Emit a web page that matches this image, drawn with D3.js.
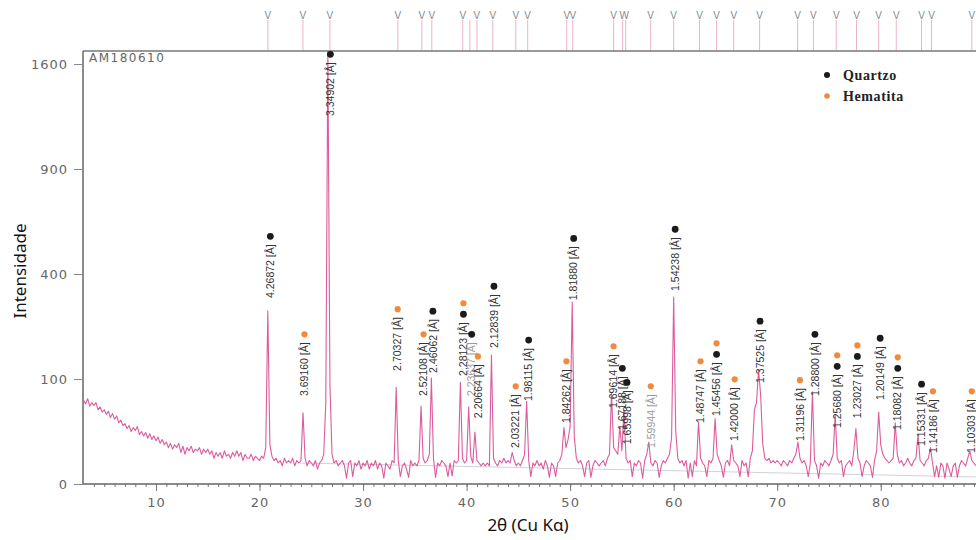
<!DOCTYPE html>
<html>
<head>
<meta charset="utf-8">
<script src="https://cdn.jsdelivr.net/npm/d3@7"></script>
<style>
  body { margin: 0; background: #fff; }
  svg { display: block; }
</style>
</head>
<body>
<svg id="chart" width="976" height="540"></svg>
<script>
// padrão de DRX, amostra AM180610
const sampleName = 'AM180610'
const twoThetaStart = 3
const twoThetaStep = 0.2

// contagens, passo de 0.2 grau a partir de 3.0
const counts = [
  64, 58, 66, 55, 60,   56, 60, 50, 54, 47,   50, 44, 48, 40, 45,   38, 42, 34, 37, 31,
  33, 28, 31, 25, 29,   26, 30, 22, 25, 21,   24, 19, 23, 18, 21,   17, 20, 15, 18, 14,   // 3-10
  16, 12, 15, 11, 14,   12, 15, 9, 13, 8,     12, 10, 13, 9, 11,    10, 12, 8, 11, 9,
  11, 8, 10, 6, 9,      7, 9, 6, 10, 7,       8, 6, 9, 7, 10,       7, 9, 5, 8, 6,
  6, 8, 5, 7, 6,        5, 7, 6, 12, 272,     // 11-20
  14, 7, 5, 6, 4,       5, 3, 6, 4, 5,        4, 6, 3, 5, 4,        5, 46, 6, 3, 5,
  4, 3, 5, 2, 4,        5, 8, 60, 1700, 90,   8, 4, 5, 3, 4,        5, 3, 0.3, 4, 5,
  0.5, 4, 3, 5, 2,      4, 3, 5, 2, 4,        // 21-30
  3, 5, 2, 4, 3,        0.3, 4, 3, 2, 5,      4, 85, 5, 0.5, 3,     4, 2, 0.4, 5, 3,
  4, 3, 5, 55, 6,       4, 5, 8, 102, 6,      0.4, 4, 3, 5, 4,      3, 0.5, 4, 0.6, 5,
  4, 5, 94, 6, 4,       5, 54, 7, 4, 24.5,    // 31-40
  5, 4, 3, 4, 3,        4, 3, 151, 6, 4,      3, 5, 4, 6, 4,        5, 4, 9, 5, 3,
  4, 3, 5, 8, 62,       5, 0.5, 4, 3, 5,      3, 4, 2, 5, 3,        0.4, 4, 3, 0.5, 4,
  5, 8, 29, 12, 18,     30, 300, 20, 6, 4,    // 41-50
  5, 3, 0.5, 4, 5,      0.4, 3, 5, 4, 3,      4, 5, 3, 6, 8,        75, 12, 10, 8, 30,
  10, 50, 6, 4, 5,      0.5, 4, 3, 5, 4,      0.3, 5, 8, 16, 4,     3, 5, 4, 0.4, 3,
  5, 4, 6, 8, 20,       317, 25, 6, 4, 5,     // 51-60
  3, 5, 0.3, 4, 0.5,    5, 3, 35, 6, 4,       3, 0.5, 5, 4, 6,      39, 8, 5, 3, 0.4,
  4, 5, 3, 14, 5,       4, 3, 0.5, 5, 3,      4, 0.5, 6, 10, 50,    60, 118, 72, 15, 6,
  5, 6, 4, 5, 4,        5, 4, 3, 5, 4,        // 61-70
  3, 5, 4, 6, 8,        16, 6, 4, 5, 3,       0.5, 4, 77, 5, 3,     0.3, 4, 3, 5, 4,
  3, 5, 8, 43, 6,       4, 5, 0.5, 3, 4,      5, 3, 10, 28, 6,      4, 0.5, 3, 5, 4,
  3, 0.4, 5, 10, 47,    14, 8, 6, 5, 4,       // 71-80
  5, 6, 34, 8, 4,       5, 3, 4, 6, 4,        3, 5, 6, 22, 5,       4, 3, 5, 6, 12,
  4, 0.5, 3, 0.4, 4,    3, 0.3, 4, 2, 0.5,    3, 4, 0.4, 3, 5,      4, 3, 6, 10, 5,
  4, 3                  // 81-89.2
]

// linha de fundo (cinza)
const backgroundLine = [[23.9, 4], [89.2, 0.45]]

// marcas de referência no topo (2θ)
const refPositions = [20.81, 24.19, 26.8, 33.36, 35.68, 36.64, 39.63, 40.31, 41.0, 42.53,
  44.75, 45.9, 49.67, 50.25, 54.2, 55.07, 55.37, 57.78, 60.0, 62.5, 64.15, 65.8, 68.3,
  71.97, 73.5, 75.7, 77.66, 79.8, 81.5, 83.94, 84.9, 88.8]
// letras sobre as marcas (W = duas marcas juntas)
const refGlyphPos = [20.81, 24.19, 26.8, 33.36, 35.68, 36.64, 39.63, 41.0, 42.53,
  44.75, 45.9, 49.67, 50.25, 54.2, 55.22, 57.78, 60.0, 62.5, 64.15, 65.8, 68.3,
  71.97, 73.5, 75.7, 77.66, 79.8, 81.5, 83.94, 84.9, 88.8]
const refGlyphs = ['V', 'V', 'V', 'V', 'V', 'V', 'V', 'V', 'V', 'V', 'V', 'V', 'V', 'V', 'W',
  'V', 'V', 'V', 'V', 'V', 'V', 'V', 'V', 'V', 'V', 'V', 'V', 'V', 'V', 'V']

// picos identificados: 2θ, d [Å], fases, contagem onde começa o rótulo
const peakTheta = [20.85, 24.15, 26.65, 33.15, 35.65, 36.55, 39.5, 40.3, 40.9, 42.45,
  44.55, 45.8, 49.45, 50.15, 54.0, 54.85, 55.3, 57.6, 59.95, 62.4,
  63.95, 65.7, 68.15, 72.0, 73.45, 75.6, 77.55, 79.75, 81.45, 83.75, 84.85, 88.6]
const peakD = ['4.26872', '3.69160', '3.34902', '2.70327', '2.52108', '2.46062', '2.28123',
  '2.23637', '2.20664', '2.12839', '2.03221', '1.98115', '1.84262', '1.81880', '1.69614',
  '1.67188', '1.65998', '1.59944', '1.54238', '1.48747', '1.45456', '1.42000', '1.37525',
  '1.31196', '1.28800', '1.25680', '1.23027', '1.20149', '1.18082', '1.15331', '1.14186', '1.10303']
const peakPhases = ['Q', 'H', 'Q', 'H', 'H', 'Q', 'QH', 'Q', 'H', 'Q', 'H', 'Q', 'H', 'Q',
  'H', 'Q', 'Q', 'H', 'Q', 'H', 'QH', 'H', 'Q', 'H', 'Q', 'QH', 'QH', 'Q', 'QH', 'Q', 'H', 'H']
const peakLabelCounts = [307, 67, 1215, 112, 67, 108, 102, 67, 37, 163, 10.5, 59.5, 31.6, 300,
  49.7, 24.5, 13, 10.5, 331, 31.6, 39.5, 15.2, 89, 15.2, 67, 26.4, 37, 61, 24.5, 11.8, 7.6, 7.6]
const faintLabels = ['2.23637', '1.59944']

const yTicks = [0, 100, 400, 900, 1600]
const xTicks = [10, 20, 30, 40, 50, 60, 70, 80]
const phaseNames = ['Quartzo', 'Hematita']
const phaseColor = { Q: '#1b1b1b', H: '#f08a3c' }

let svg = d3.select('#chart')
let marge = { top: 51, left: 83, bottom: 484, right: 976 }

let x = d3.scaleLinear()
  .domain([2.95, 89.2])
  .range([marge.left, marge.right])
// eixo em raiz quadrada: 0,100,400,900,1600 igualmente espaçados
let y = d3.scaleSqrt()
  .domain([0, 1600])
  .range([marge.bottom, 64])

// marcas de referência no topo
let refs = svg.append('g')
refs.selectAll('line')
  .data(refPositions)
  .enter()
  .append('line')
  .attr('x1', d => x(d)).attr('x2', d => x(d))
  .attr('y1', 20).attr('y2', marge.top)
  .attr('stroke', '#eab3cd')
  .attr('stroke-width', 1)
refs.selectAll('text')
  .data(refGlyphPos)
  .enter()
  .append('text')
  .attr('x', d => x(d))
  .attr('y', 19)
  .attr('text-anchor', 'middle')
  .style('font', '10px "Liberation Sans", Arial, sans-serif')
  .style('fill', '#888')
  .text((d, i) => refGlyphs[i])

// moldura
svg.append('line')
  .attr('x1', marge.left).attr('x2', marge.right)
  .attr('y1', marge.top).attr('y2', marge.top)
  .attr('stroke', '#777').attr('stroke-width', 1.5)
svg.append('line')
  .attr('x1', marge.left).attr('x2', marge.left)
  .attr('y1', marge.top).attr('y2', marge.bottom)
  .attr('stroke', '#666').attr('stroke-width', 1.5)

// linha de fundo
svg.append('path')
  .datum(backgroundLine)
  .attr('d', d3.line().x(d => x(d[0])).y(d => y(d[1])))
  .attr('fill', 'none')
  .attr('stroke', '#cdd3da')
  .attr('stroke-width', 1)

// difratograma
svg.append('path')
  .datum(counts)
  .attr('d', d3.line()
    .x((d, i) => x(twoThetaStart + i * twoThetaStep))
    .y(d => y(d)))
  .attr('fill', 'none')
  .attr('stroke', '#dc5c9c')
  .attr('stroke-width', 1.1)
  .attr('stroke-linejoin', 'round')

// eixo x: menores a cada grau, maiores a cada 10
let xMinor = d3.axisBottom(x)
  .tickValues(d3.range(4, 90, 1))
  .tickSize(3)
  .tickFormat('')
svg.append('g')
  .attr('transform', `translate(0,${marge.bottom})`)
  .call(xMinor)
  .call(g => g.select('.domain').remove())
  .call(g => g.selectAll('line').attr('stroke', '#777'))

let xAxis = d3.axisBottom(x)
  .tickValues(xTicks)
  .tickSize(7)
  .tickPadding(7)
svg.append('g')
  .attr('transform', `translate(0,${marge.bottom})`)
  .call(xAxis)
  .call(g => g.select('.domain').remove())
  .call(g => g.selectAll('line').attr('stroke', '#777'))
  .call(g => g.selectAll('text')
    .style('font', '13px "DejaVu Sans", sans-serif')
    .style('letter-spacing', '1px')
    .style('fill', '#666'))

svg.append('line')
  .attr('x1', marge.left).attr('x2', marge.right)
  .attr('y1', marge.bottom).attr('y2', marge.bottom)
  .attr('stroke', '#666').attr('stroke-width', 1.5)

let yAxis = d3.axisLeft(y)
  .tickValues(yTicks)
  .tickFormat(d3.format('d'))
  .tickSize(9)
  .tickPadding(6)
svg.append('g')
  .attr('transform', `translate(${marge.left},0)`)
  .call(yAxis)
  .call(g => g.select('.domain').remove())
  .call(g => g.selectAll('line').attr('stroke', '#888'))
  .call(g => g.selectAll('text')
    .style('font', '13px "DejaVu Sans", sans-serif')
    .style('letter-spacing', '1px')
    .style('fill', '#666'))

// nome da amostra
svg.append('text')
  .attr('x', 89).attr('y', 62)
  .style('font', '12px "DejaVu Sans", sans-serif')
  .style('letter-spacing', '1.5px')
  .style('fill', '#666')
  .text(sampleName)

// rótulos dos picos
let peaks = peakTheta.map((t, i) => ({
  t: t, d: peakD[i], phases: peakPhases[i], c: peakLabelCounts[i]
}))
let labels = svg.append('g')
  .selectAll('g')
  .data(peaks)
  .enter()
  .append('g')
  .attr('transform', d => `translate(${x(d.t) + 2},${y(d.c) - 2})`)

labels.append('text')
  .attr('transform', 'rotate(-90)')
  .attr('dy', '0.35em')
  .style('font', '10.5px "Liberation Sans", Arial, sans-serif')
  .style('fill', d => faintLabels.includes(d.d) ? '#9a9a9a' : '#333')
  .text(d => d.d + ' [Å]')

labels.each(function (d) {
  let g = d3.select(this)
  let len = g.select('text').node().getComputedTextLength()
  let ph = d.phases.split('')
  ph.forEach((p, k) => {
    g.append('circle')
      .attr('cx', 0)
      .attr('cy', -len - 8 - k * 11)
      .attr('r', p === 'Q' ? 3.4 : 3.1)
      .attr('fill', phaseColor[p])
  })
})

// legenda
let legend = svg.append('g')
legend.selectAll('circle')
  .data(['Q', 'H'])
  .enter()
  .append('circle')
  .attr('cx', 827)
  .attr('cy', (d, i) => 75 + i * 21)
  .attr('r', d => d === 'Q' ? 3 : 2.8)
  .attr('fill', d => phaseColor[d])
legend.selectAll('text')
  .data(phaseNames)
  .enter()
  .append('text')
  .attr('x', 843)
  .attr('y', (d, i) => 80 + i * 21)
  .style('font', 'bold 14px "Liberation Serif", "Times New Roman", serif')
  .style('letter-spacing', '0.6px')
  .style('fill', '#222')
  .text(d => d)

// títulos dos eixos
svg.append('text')
  .attr('x', 528).attr('y', 531)
  .attr('text-anchor', 'middle')
  .style('font', '17px "Noto Sans", sans-serif')
  .style('fill', '#111')
  .text('2θ (Cu Kα)')

svg.append('text')
  .attr('transform', 'translate(26,271) rotate(-90)')
  .attr('text-anchor', 'middle')
  .style('font', '17px "Noto Sans", sans-serif')
  .style('fill', '#111')
  .text('Intensidade')
</script>
</body>
</html>
